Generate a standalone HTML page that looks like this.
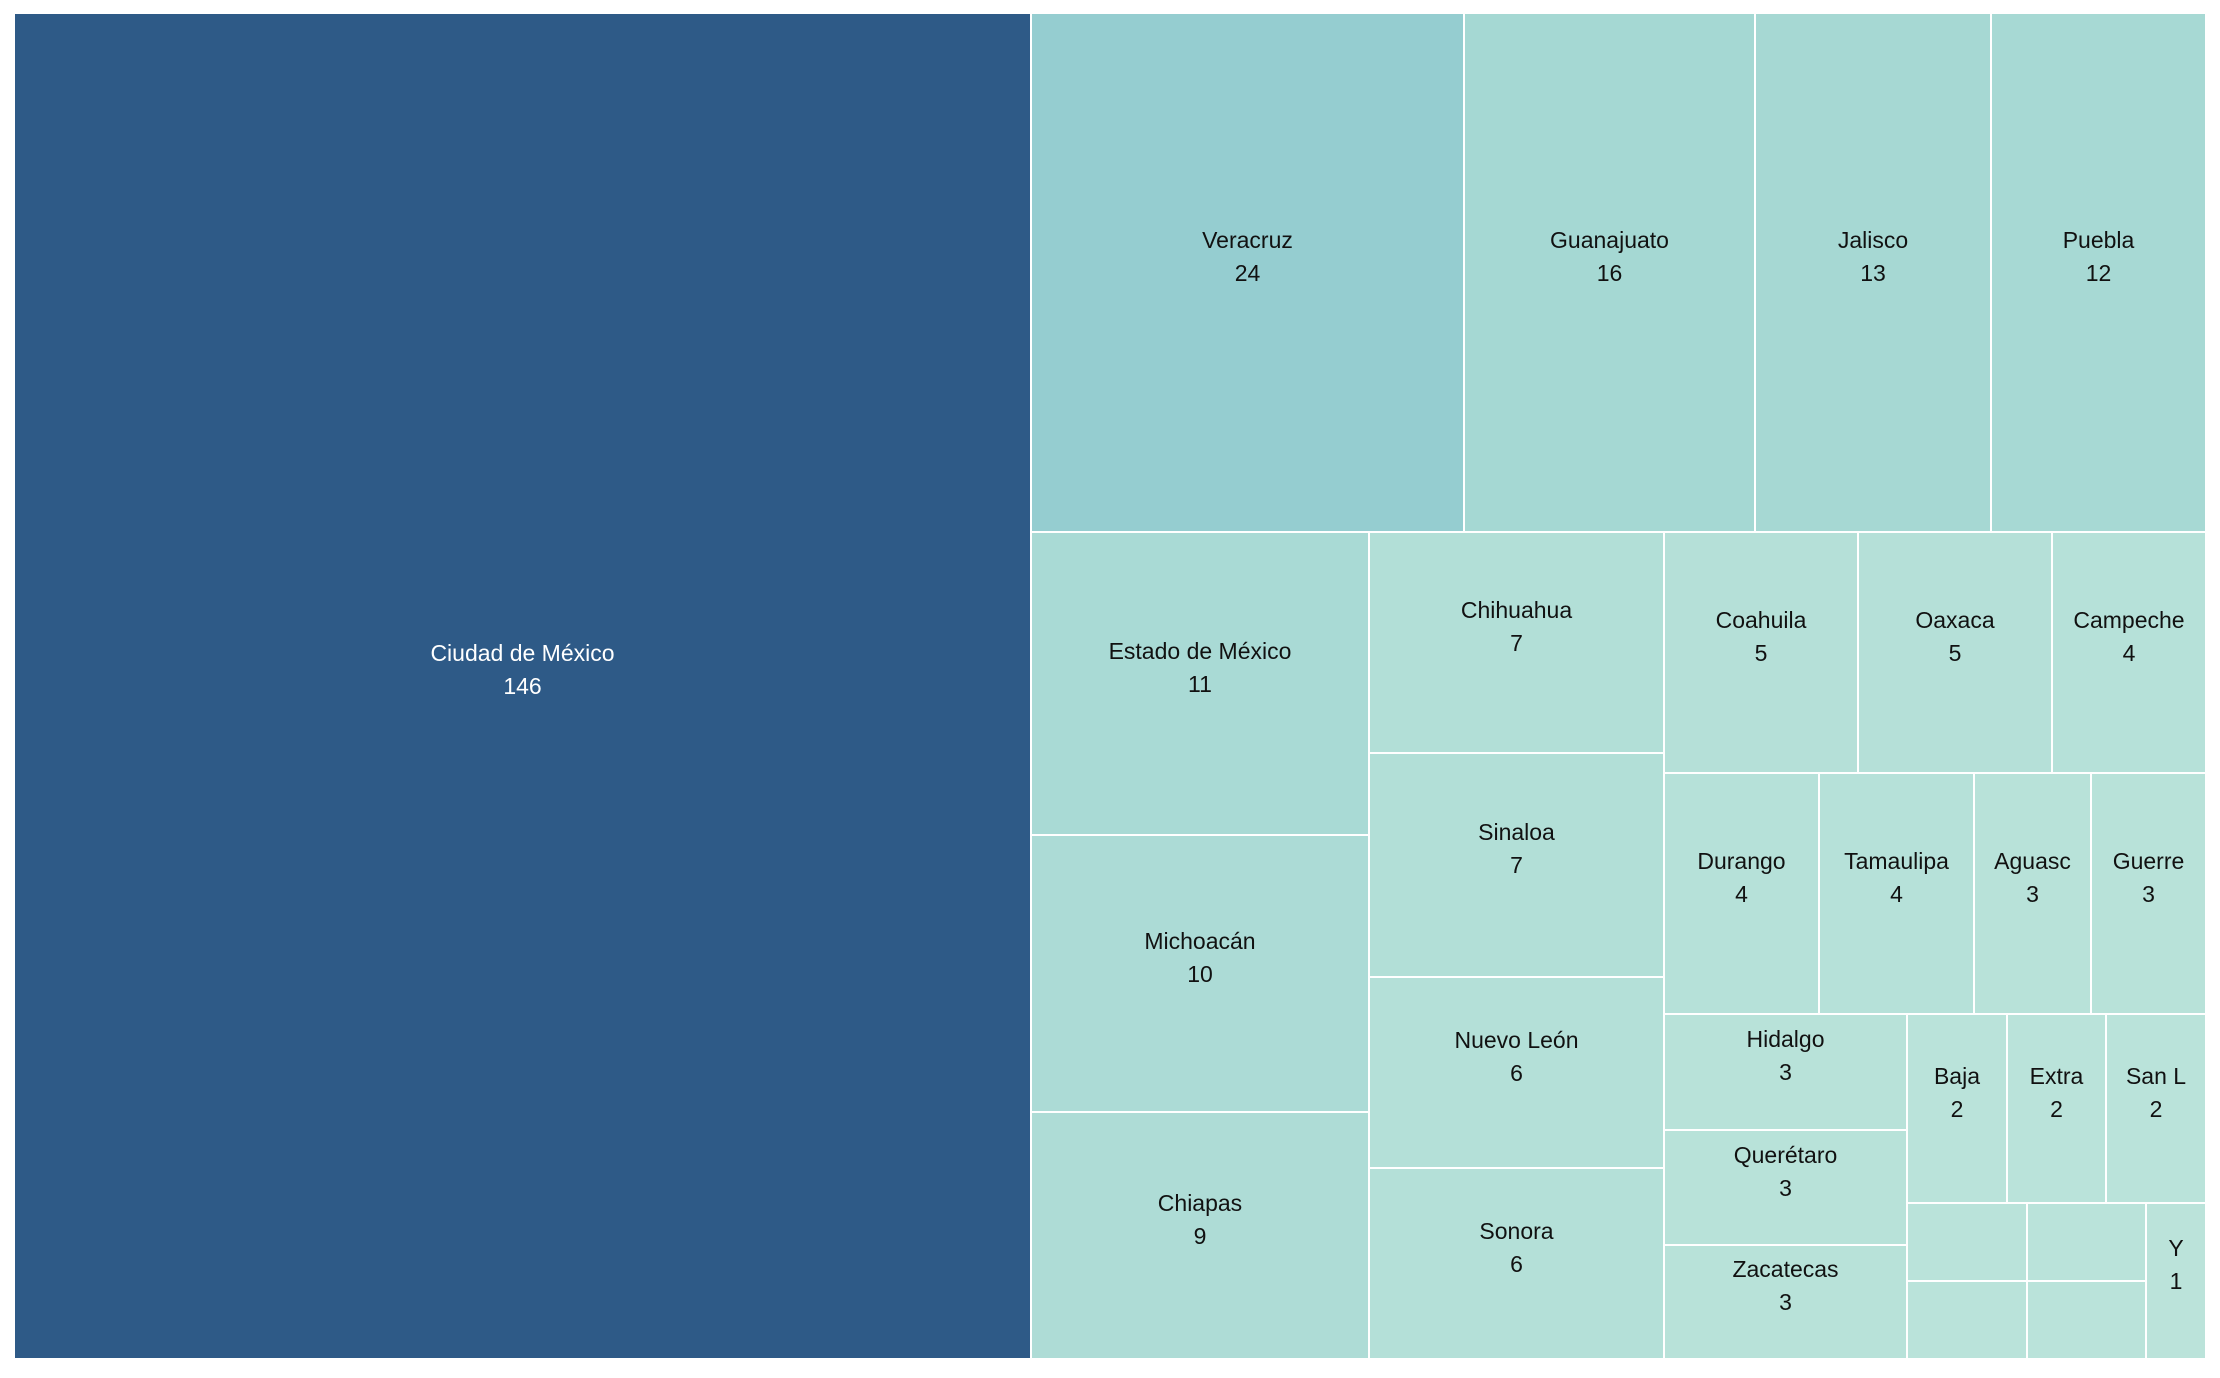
<!DOCTYPE html>
<html><head><meta charset="utf-8"><style>
html,body{margin:0;padding:0;background:#fff;width:2220px;height:1378px;overflow:hidden}
.c{position:absolute;box-sizing:border-box;display:flex;flex-direction:column;align-items:center;justify-content:center;overflow:hidden;white-space:nowrap;font-family:"Liberation Sans",sans-serif;font-size:23px;line-height:33px;color:#111}
.c>div{transform:translateY(-16px)}
</style></head><body>
<div id="r"></div>
<script>
const cells=[
[15,14,1030,1358,"#2e5a87","Ciudad de México","146","#fff"],
[1032,14,1463,531,"#95cdd0","Veracruz","24"],
[1465,14,1754,531,"#a5d8d3","Guanajuato","16"],
[1756,14,1990,531,"#a6d8d3","Jalisco","13"],
[1992,14,2205,531,"#a7d9d4","Puebla","12"],
[1032,533,1368,834,"#a9dad5","Estado de México","11"],
[1032,836,1368,1111,"#acdbd6","Michoacán","10"],
[1032,1113,1368,1358,"#aedcd6","Chiapas","9"],
[1370,533,1663,752,"#b2dfd7","Chihuahua","7"],
[1370,754,1663,976,"#b2dfd7","Sinaloa","7"],
[1370,978,1663,1167,"#b4e0d8","Nuevo León","6"],
[1370,1169,1663,1358,"#b4e0d8","Sonora","6"],
[1665,533,1857,772,"#b5e0d8","Coahuila","5"],
[1859,533,2051,772,"#b5e0d8","Oaxaca","5"],
[2053,533,2205,772,"#b6e1d9","Campeche","4"],
[1665,774,1818,1013,"#b6e1d9","Durango","4"],
[1820,774,1973,1013,"#b6e1d9","Tamaulipa","4"],
[1975,774,2090,1013,"#b8e2d9","Aguasc","3"],
[2092,774,2205,1013,"#b8e2d9","Guerre","3"],
[1665,1015,1906,1129,"#b8e2d9","Hidalgo","3"],
[1665,1131,1906,1244,"#b8e2d9","Querétaro","3"],
[1665,1246,1906,1358,"#b8e2d9","Zacatecas","3"],
[1908,1015,2006,1202,"#bae3da","Baja","2"],
[2008,1015,2105,1202,"#bae3da","Extra","2"],
[2107,1015,2205,1202,"#bae3da","San L","2"],
[1908,1204,2026,1280,"#bae3da","",""],
[2028,1204,2145,1280,"#bae3da","",""],
[1908,1282,2026,1358,"#bae3da","",""],
[2028,1282,2145,1358,"#bae3da","",""],
[2147,1204,2205,1358,"#bbe3da","Y","1"]
];
let h="";
for(const c of cells){
h+=`<div class="c" style="left:${c[0]}px;top:${c[1]}px;width:${c[2]-c[0]}px;height:${c[3]-c[1]}px;background:${c[4]};color:${c[7]||'#111'}"><div>${c[5]}</div><div>${c[6]}</div></div>`;
}
document.getElementById("r").innerHTML=h;
</script>
</body></html>
